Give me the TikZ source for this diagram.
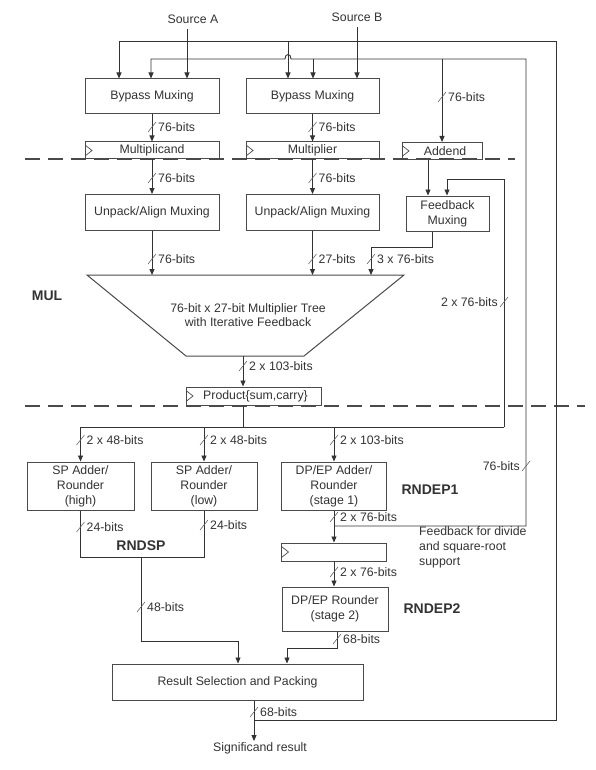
\documentclass[tikz,border=0pt]{standalone}
\usepackage{fontspec}
\setmainfont{Liberation Sans}
\usetikzlibrary{arrows.meta}

\definecolor{ink}{HTML}{333333}
\definecolor{edge}{HTML}{4A4A4A}

\tikzset{
  blk/.style={draw=edge, line width=1pt, fill=white, text=ink, align=center,
    inner sep=0pt, font=\fontsize{12.3}{15}\selectfont},
  reg/.style={blk, minimum height=17pt,
    path picture={\draw[edge, line width=0.7pt]
      ([yshift=5.5pt]path picture bounding box.west) --
      ([xshift=7pt]path picture bounding box.west) --
      ([yshift=-5.5pt]path picture bounding box.west);}},
  wire/.style={draw=ink, line width=0.9pt},
  arr/.style={wire, -{Triangle[length=6pt,width=5pt]}},
  tick/.style={draw=ink!75, line width=0.6pt},
  bits/.style={text=ink, inner ysep=1pt, inner xsep=6pt, font=\fontsize{12.3}{14}\selectfont},
  stage/.style={text=ink, font=\bfseries\fontsize{14}{16}\selectfont},
  cut/.style={draw=edge, line width=2pt, dash pattern=on 15pt off 8pt},
}

% bus width mark: slash on the wire and its label
\newcommand{\buswidth}[5][west]{%
  \draw[tick] (#3-4,#4+5) -- (#3+4,#4-5);
  \node[bits, anchor=#1] (#2) at (#3,#4) {#5};}

\begin{document}
\begin{tikzpicture}[x=1pt,y=-1pt]
  \useasboundingbox (0,0) rectangle (595,770);

  % sources
  \node[bits] (srcA) at (193,19) {Source A};
  \node[bits] (srcB) at (357,17) {Source B};

  % bypass muxing and input registers
  \node[blk, minimum width=134pt, minimum height=35pt] (bypA) at (152,96.5) {Bypass Muxing};
  \node[blk, minimum width=133pt, minimum height=35pt] (bypB) at (312.5,96.5) {Bypass Muxing};
  \node[reg, minimum width=134pt] (regA) at (152,150.5) {Multiplicand};
  \node[reg, minimum width=133pt] (regB) at (312.5,150.5) {Multiplier};
  \node[reg, minimum width=80pt] (regC) at (442,151) {\hspace{6pt}Addend};

  % MUL stage
  \node[blk, minimum width=134pt, minimum height=36pt] (unpA) at (152,212.5) {Unpack/Align Muxing};
  \node[blk, minimum width=133pt, minimum height=36pt] (unpB) at (312.5,212.5) {Unpack/Align Muxing};
  \node[blk, minimum width=83pt, minimum height=35pt] (fbmux) at (447.5,213.5) {Feedback\\Muxing};

  \coordinate (trTL) at (87,275);
  \coordinate (trTR) at (404,275);
  \coordinate (trBR) at (304,356);
  \coordinate (trBL) at (186,356);
  \draw[draw=edge, line width=1pt] (trTL) -- (trTR) -- (trBR) -- (trBL) -- cycle;
  \node[bits, align=center] (tree) at (248,315)
    {76-bit x 27-bit Multiplier Tree\\with Iterative Feedback};
  \node[reg, minimum width=135pt, minimum height=18pt] (prod) at (253.5,396) {\hspace{4pt}Product\{sum,carry\}};
  \node[stage] (mul) at (47,296) {MUL};

  % rounding stages
  \node[blk, minimum width=107pt, minimum height=48pt] (spH) at (80.5,486) {SP Adder/\\Rounder\\(high)};
  \node[blk, minimum width=106pt, minimum height=48pt] (spL) at (204,486) {SP Adder/\\Rounder\\(low)};
  \node[blk, minimum width=105pt, minimum height=48pt] (dpA) at (334,486) {DP/EP Adder/\\Rounder\\(stage 1)};
  \node[reg, minimum width=105pt, minimum height=18pt] (regD) at (334,552) {};
  \node[blk, minimum width=106pt, minimum height=44pt] (dpB) at (335,609) {DP/EP Rounder\\(stage 2)};
  \node[stage] (rndsp) at (141,546) {RNDSP};
  \node[stage] (rndep1) at (430,490) {RNDEP1};
  \node[stage] (rndep2) at (432,609) {RNDEP2};
  \node[bits, anchor=north west, align=left, inner xsep=0pt, font=\fontsize{12.3}{15}\selectfont]
    (fbnote) at (419,525) {Feedback for divide\\and square-root\\support};

  \node[blk, minimum width=251pt, minimum height=36pt] (res) at (237.5,682) {Result Selection and Packing};
  \node[bits] (sig) at (260,748) {Significand result};

  % pipeline cuts
  \draw[cut] (25,159.5) -- (515,159.5);
  \draw[cut] (25,405.5) -- (585,405.5);

  % sources into bypass
  \coordinate (inA) at (187,29);
  \coordinate (inB) at (357,27);
  \draw[arr] (inA) -- (inA |- bypA.north);
  \draw[arr] (inB) -- (inB |- bypB.north);

  % result loop
  \coordinate (rtap) at (254,720);
  \coordinate (outB) at (556,720);
  \coordinate (outT) at (556,41);
  \coordinate (oA) at (119,41);
  \coordinate (oB) at (288,41);
  \draw[arr] (rtap) -- (outB) -- (outT) -- (oA) -- (oA |- bypA.north);
  \draw[arr] (oB) -- (oB |- bypB.north);

  % divide / square-root feedback loop
  \coordinate (ftap) at (334,526);
  \coordinate (inT) at (526,59);
  \coordinate (iA) at (151,59);
  \coordinate (iB) at (313,59);
  \coordinate (iC) at (442,59);
  \draw[arr] (ftap) -| (inT) -- (291,59) .. controls (291,53) and (285,53) .. (285,59)
    -- (iA) -- (iA |- bypA.north);
  \draw[arr] (iB) -- (iB |- bypB.north);
  \draw[arr] (iC) -- (iC |- regC.north);
  \buswidth{wAdd}{442}{97}{76-bits}
  \buswidth[east]{wFb}{526}{466}{76-bits}

  % bypass to registers to unpack
  \draw[arr] (bypA.south) -- (regA.north);
  \draw[arr] (bypB.south) -- (regB.north);
  \buswidth{wA1}{152}{127}{76-bits}
  \buswidth{wB1}{312.5}{127}{76-bits}
  \draw[arr] (regA.south) -- (unpA.north);
  \draw[arr] (regB.south) -- (unpB.north);
  \buswidth{wA2}{152}{178}{76-bits}
  \buswidth{wB2}{312.5}{178}{76-bits}
  \coordinate (fA) at (428,170);
  \draw[arr] (fA |- regC.south) -- (fA |- fbmux.north);

  % into the multiplier tree
  \draw[arr] (unpA.south) -- (unpA.south |- trTL);
  \draw[arr] (unpB.south) -- (unpB.south |- trTL);
  \buswidth{wA3}{152}{259}{76-bits}
  \buswidth{wB3}{312.5}{259}{27-bits}
  \coordinate (fO) at (432,247);
  \coordinate (fT) at (371,247);
  \draw[arr] (fO |- fbmux.south) -- (fO) -- (fT) -- (fT |- trTL);
  \buswidth{wF3}{371}{259}{3 x 76-bits}

  % tree to product register
  \coordinate (tOut) at (243,356);
  \draw[arr] (tOut) -- (tOut |- prod.north);
  \buswidth{wT}{243}{366}{2 x 103-bits}

  % product bus
  \coordinate (pX) at (243,427);
  \coordinate (busL) at (80.5,427);
  \coordinate (busR) at (504,427);
  \coordinate (pfb) at (504,179);
  \coordinate (fB) at (447,179);
  \draw[wire] (pX |- prod.south) -- (pX);
  \draw[wire] (busL) -- (busR);
  \draw[arr] (busR) -- (pfb) -- (fB) -- (fB |- fbmux.north);
  \buswidth[east]{wP}{504}{302}{2 x 76-bits}
  \draw[arr] (busL) -- (busL |- spH.north);
  \draw[arr] (spL.north |- busL) -- (spL.north);
  \draw[arr] (dpA.north |- busL) -- (dpA.north);
  \buswidth{wP1}{80.5}{440}{2 x 48-bits}
  \buswidth{wP2}{204}{440}{2 x 48-bits}
  \buswidth{wP3}{334}{440}{2 x 103-bits}

  % single precision result
  \coordinate (spJ) at (141,557);
  \coordinate (spK) at (141,641);
  \coordinate (rInA) at (238,641);
  \draw[wire] (spH.south) -- (spH.south |- spJ) -- (spL.south |- spJ) -- (spL.south);
  \draw[arr] (spJ) -- (spK) -- (rInA) -- (rInA |- res.north);
  \buswidth{wS1}{80.5}{527}{24-bits}
  \buswidth{wS2}{204}{525}{24-bits}
  \buswidth{wS3}{141}{607}{48-bits}

  % double / extended precision result
  \draw[arr] (dpA.south) -- (regD.north);
  \draw[arr] (regD.south) -- (regD.south |- dpB.north);
  \buswidth{wD1}{334}{517}{2 x 76-bits}
  \buswidth{wD2}{334}{572}{2 x 76-bits}
  \coordinate (dO) at (337,648);
  \coordinate (rInB) at (287,648);
  \draw[arr] (dO |- dpB.south) -- (dO) -- (rInB) -- (rInB |- res.north);
  \buswidth{wD3}{337}{639}{68-bits}

  % significand out
  \draw[arr] (rtap |- res.south) -- (rtap |- sig.north);
  \buswidth{wR}{254}{712}{68-bits}
\end{tikzpicture}
\end{document}
